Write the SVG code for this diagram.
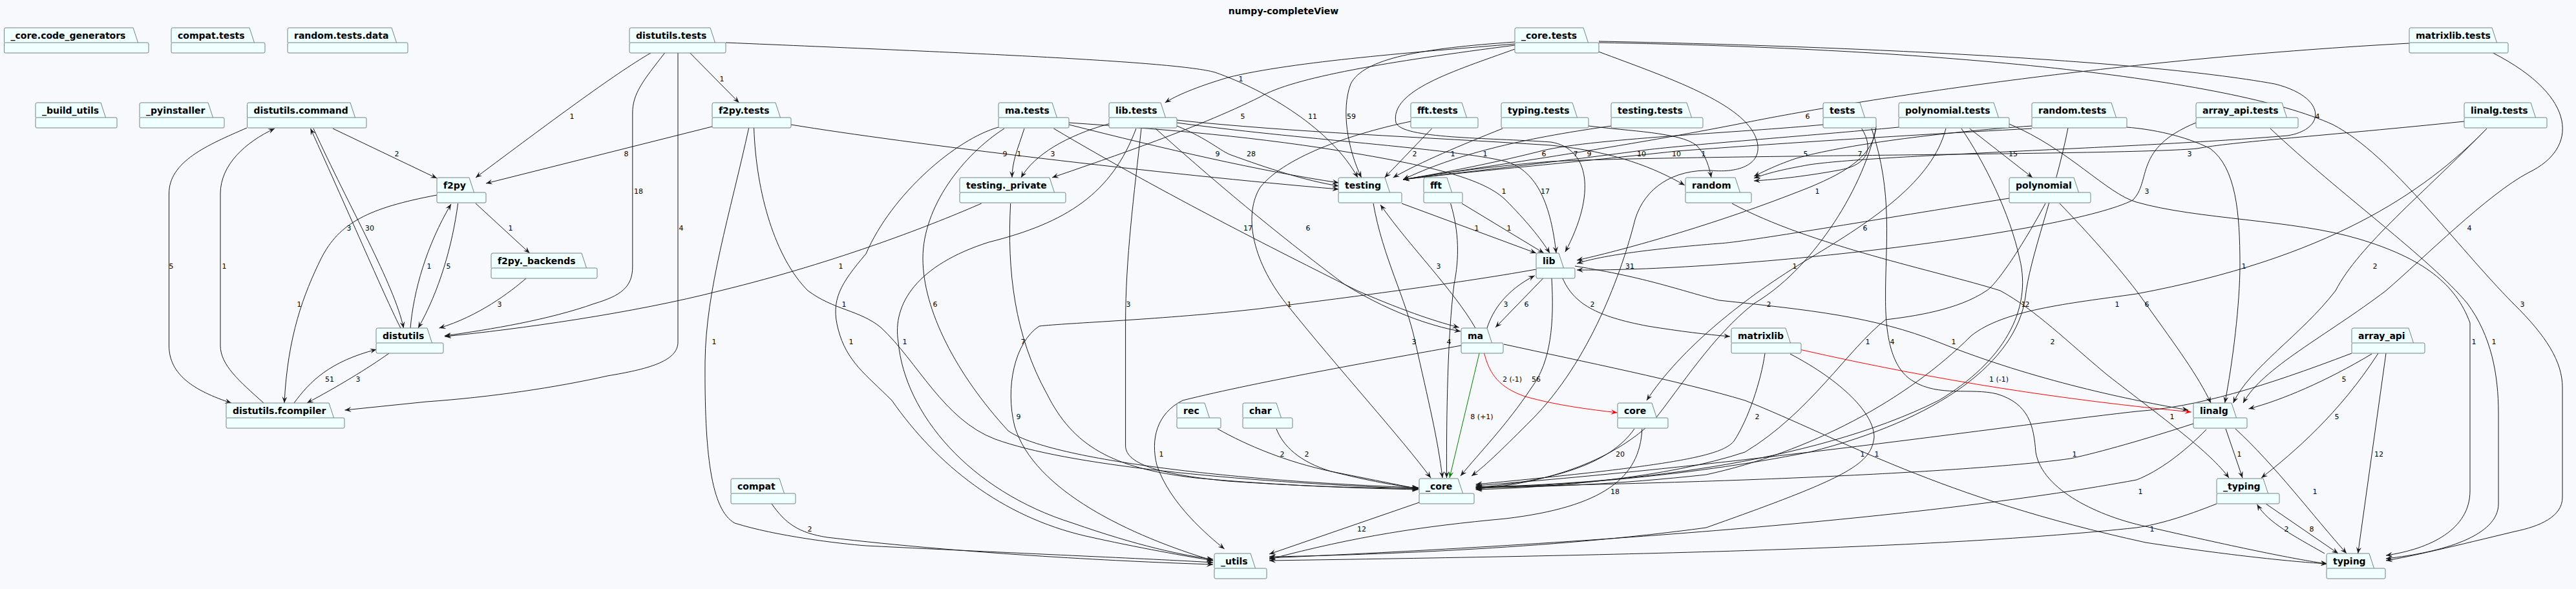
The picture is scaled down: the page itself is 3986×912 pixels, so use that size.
<svg xmlns="http://www.w3.org/2000/svg" width="3986" height="912" viewBox="0 0 3986 912">
<style>
.n path,.n rect{fill:#F0FFFF;stroke:#738383;stroke-width:1}
.n text{font-family:"DejaVu Sans",sans-serif;font-weight:bold;font-size:14px;fill:#000}
.e{fill:none;stroke:#181818;stroke-width:1;marker-end:url(#a)}
.er{fill:none;stroke:#FF0000;stroke-width:1;marker-end:url(#ar)}
.eg{fill:none;stroke:#008000;stroke-width:1;marker-end:url(#ag)}
.l{font-family:"DejaVu Sans",sans-serif;font-size:11px;fill:#000;text-anchor:middle}
.t{font-family:"DejaVu Sans",sans-serif;font-weight:bold;font-size:14px;text-anchor:middle}
</style>
<defs>
<marker id="a" viewBox="0 0 10 8" refX="10" refY="4" markerWidth="10" markerHeight="8" markerUnits="userSpaceOnUse" orient="auto"><path d="M0,0L10,4L0,8L4,4Z" fill="#181818"/></marker>
<marker id="ar" viewBox="0 0 10 8" refX="10" refY="4" markerWidth="10" markerHeight="8" markerUnits="userSpaceOnUse" orient="auto"><path d="M0,0L10,4L0,8L4,4Z" fill="#FF0000"/></marker>
<marker id="ag" viewBox="0 0 10 8" refX="10" refY="4" markerWidth="10" markerHeight="8" markerUnits="userSpaceOnUse" orient="auto"><path d="M0,0L10,4L0,8L4,4Z" fill="#008000"/></marker>
</defs>
<rect x="0" y="0" width="3986" height="912" fill="#F8F9FD"/>
<text class="t" x="1986" y="22">numpy-completeView</text>

<g id="connectors">
<path class="e" d="M382,198 C320,225 261.5,250 261.5,300 L261.5,535 C261.5,580 300,605 358,624"/><text class="l" x="265" y="416">5</text>
<path class="e" d="M408,624 C370,590 341,565 341,535 L341,300 C341,255 380,220 425,199"/><text class="l" x="347" y="416">1</text>
<path class="e" d="M515,199 L676,276"/><text class="l" x="614" y="242">2</text>
<path class="e" d="M620,508 C600,470 540,330 480.5,199"/><text class="l" x="540" y="357">3</text>
<path class="e" d="M485,199 C540,320 610,440 624.5,508"/><text class="l" x="572" y="357">30</text>
<path class="e" d="M635,508 C640,450 660,380 698,316"/><text class="l" x="664" y="416">1</text>
<path class="e" d="M708.6,315 C700,380 680,450 647,508"/><text class="l" x="694" y="416">5</text>
<path class="e" d="M736,315 L819.6,392"/><text class="l" x="790" y="357">1</text>
<path class="e" d="M814,431 C790,452 740,490 679.5,508"/><text class="l" x="773" y="475">3</text>
<path class="e" d="M676,302 C570,322 525,345 497,400 C470,455 445,520 440,624"/><text class="l" x="463" y="475">1</text>
<path class="e" d="M602,547 C570,570 520,600 475,624"/><text class="l" x="554" y="591">3</text>
<path class="e" d="M455,624 C480,590 510,560 582.5,541"/><text class="l" x="510" y="591">51</text>
<path class="e" d="M1007,82 C950,115 850,190 736,275"/><text class="l" x="885" y="184">1</text>
<path class="e" d="M1067.7,82 L1143.6,159"/><text class="l" x="1117" y="126">1</text>
<path class="e" d="M1028.6,82 C995,125 978.8,145 978.8,175 L978.8,413 C978.8,445 960,458 920,470 C850,495 760,510 688,520"/><text class="l" x="988" y="300">18</text>
<path class="e" d="M1049,82 L1049,530 C1049,560 1000,572 940,582 C860,600 760,615 660,622 L533.5,635"/><text class="l" x="1054" y="357">4</text>
<path class="e" d="M1123,66 C1500,82 1820,95 1880,112 C1960,140 2060,200 2101,275"/><text class="l" x="2031" y="184">11</text>
<path class="e" d="M1518.6,315 C1450,345 1300,405 1115,450 C980,485 800,510 688,521"/><text class="l" x="1301" y="416">1</text>
<path class="e" d="M1102,196 L752,284"/><text class="l" x="969" y="242">8</text>
<path class="e" d="M1224,193 C1400,222 1800,270 2071.5,293"/><text class="l" x="1555" y="242">9</text>
<path class="e" d="M1158.7,198 C1130,330 1092,450 1091,560 C1090,700 1100,790 1137,810 C1200,830 1300,842 1340,845 C1600,858 1800,866 1877,871"/><text class="l" x="1105" y="533">1</text>
<path class="e" d="M1166.6,198 C1170,300 1200,400 1250,450 C1290,480 1330,480 1363,507 C1420,560 1460,650 1540,680 C1650,720 1900,745 2194.7,757"/><text class="l" x="1306" y="475">1</text>
<path class="e" d="M1545,197 C1480,215 1380,300 1340,393 C1300,440 1285,465 1297,510 C1310,560 1340,580 1380,620 C1450,720 1550,800 1680,830 C1760,848 1840,862 1877,868"/><text class="l" x="1317" y="533">1</text>
<path class="e" d="M1554,199 C1490,240 1428,320 1428,400 C1428,480 1480,580 1560,667 C1620,710 1900,745 2194.7,755"/><text class="l" x="1447" y="475">6</text>
<path class="e" d="M1758,199 C1720,300 1650,345 1530,375 C1420,410 1380,470 1390,530 C1400,640 1500,760 1660,810 C1760,845 1830,860 1877,866"/><text class="l" x="1400" y="533">1</text>
<path class="e" d="M1563.7,315 C1558,420 1570,520 1620,610 C1660,690 1720,725 1850,740 C1980,752 2100,756 2194.7,758"/><text class="l" x="1583" y="533">7</text>
<path class="e" d="M2377,417 C2250,440 2050,465 1949,478 C1800,495 1650,500 1608,505 C1570,530 1555,600 1570,660 C1600,760 1750,830 1877,868"/><text class="l" x="1576" y="649">9</text>
<path class="e" d="M1766,199 C1755,300 1741.6,400 1741.6,500 L1741.6,690 C1741.6,720 1800,735 1900,745 C2000,752 2100,756 2194.7,756"/><text class="l" x="1746" y="475">3</text>
<path class="e" d="M1884,664 C1930,690 1990,715 2060,730 C2120,742 2160,750 2194.7,757"/><text class="l" x="1984" y="707">2</text>
<path class="e" d="M1975,664 C1985,690 2010,715 2060,730 C2120,745 2160,752 2194.7,756"/><text class="l" x="2022" y="707">2</text>
<path class="e" d="M2196,778 L1964,858"/><text class="l" x="2107" y="823">12</text>
<path class="e" d="M2540.8,664 C2538,740 2480,785 2330,803 C2200,815 2100,830 1964,866"/><text class="l" x="2499" y="765">18</text>
<path class="e" d="M2529,664 C2490,720 2400,745 2283.6,755"/><text class="l" x="2507" y="707">20</text>
<path class="er" d="M2296.6,547 C2305,580 2320,600 2360,614 C2410,628 2460,634 2502.6,639"/><text class="l" x="2340" y="591">2 (-1)</text>
<path class="eg" d="M2289,547 L2243,740"/><text class="l" x="2293" y="649">8 (+1)</text>
<path class="e" d="M2401,431 C2405,500 2400,560 2370,600 C2330,660 2290,700 2260,737"/><text class="l" x="2377" y="591">56</text>
<path class="e" d="M2125,315 C2140,400 2175,460 2190,530 C2210,620 2225,680 2232,740"/><text class="l" x="2188" y="533">3</text>
<path class="e" d="M2244.6,315 C2258,360 2258,400 2250,440 C2240,520 2238,640 2238.5,740"/><text class="l" x="2242" y="533">4</text>
<path class="e" d="M2473.5,80 C2580,120 2700,160 2718,216 C2730,255 2690,268 2648,264 C2590,262 2545,290 2530,340 C2510,420 2460,560 2370,650 C2330,690 2300,720 2277,737"/><text class="l" x="2522" y="416">31</text>
<path class="e" d="M2183,188 C2100,205 1990,240 1950,290 C1925,330 1935,400 1990,470 C2070,570 2170,680 2214,740"/><text class="l" x="1995" y="475">1</text>
<path class="e" d="M1630.5,199 C1800,300 2000,400 2100,450 C2180,485 2230,500 2257.6,507"/><text class="l" x="1931" y="357">17</text>
<path class="e" d="M1788,199 C1900,300 2000,380 2080,440 C2160,490 2230,508 2260,513"/><text class="l" x="2024" y="357">6</text>
<path class="e" d="M2301,508 C2310,480 2330,450 2374.7,426.7"/><text class="l" x="2330" y="475">3</text>
<path class="e" d="M2387.7,431 L2314,507"/><text class="l" x="2362" y="475">6</text>
<path class="e" d="M2418,431 C2435,470 2470,490 2550,505 C2600,513 2640,518 2677,521"/><text class="l" x="2464" y="475">2</text>
<path class="e" d="M2169,315 L2377,392"/><text class="l" x="2285" y="357">1</text>
<path class="e" d="M2262,315 L2389,392"/><text class="l" x="2335" y="357">1</text>
<path class="e" d="M1654,190 C1800,200 1950,212 2100,238 C2230,260 2300,280 2330,310 C2360,340 2385,370 2398,392"/><text class="l" x="2327" y="300">1</text>
<path class="e" d="M1821,190 C2000,215 2250,230 2330,250 C2380,265 2400,320 2408,392"/><text class="l" x="2391" y="300">17</text>
<path class="e" d="M2344,76 C2250,110 2150,140 2160,190 C2170,215 2300,213 2400,220 C2460,230 2470,300 2422,390"/><text class="l" x="2459" y="242">9</text>
<path class="e" d="M1821,186 C2000,205 2200,212 2400,225 C2500,235 2560,260 2606.7,286.7"/><text class="l" x="2438" y="242">7</text>
<path class="e" d="M2458,195 C2520,203 2600,205 2625,225 C2640,240 2645,260 2648,275"/><text class="l" x="2636" y="242">1</text>
<path class="e" d="M3144,195 C3000,205 2850,225 2780,245 C2750,255 2730,265 2714,273"/><text class="l" x="2794" y="242">5</text>
<path class="e" d="M2880.7,199 C2900,230 2890,255 2848,263 C2800,272 2750,278 2714,280"/><text class="l" x="2878" y="242">7</text>
<path class="e" d="M2474,64 C2800,70 3300,90 3520,130 C3600,150 3600,200 3540,210 C3300,230 2900,240 2800,255 C2760,262 2735,268 2714,276"/><text class="l" x="3586" y="184">4</text>
<path class="e" d="M2215.5,199 L2142.6,275"/><text class="l" x="2189" y="242">2</text>
<path class="e" d="M2325,199 C2260,225 2200,250 2155.6,275"/><text class="l" x="2248" y="242">1</text>
<path class="e" d="M2493.5,195 C2350,215 2250,240 2171,278"/><text class="l" x="2298" y="242">1</text>
<path class="e" d="M2821,193 C2700,205 2450,215 2380,235 C2300,255 2220,270 2171,278"/><text class="l" x="2389" y="242">6</text>
<path class="e" d="M2938,197 C2800,210 2600,225 2540,233 C2400,252 2250,268 2171,278"/><text class="l" x="2540" y="242">10</text>
<path class="e" d="M3144,199 C2900,212 2700,226 2594,234 C2450,250 2250,268 2171,278"/><text class="l" x="2594" y="242">10</text>
<path class="e" d="M3813,188 C3600,210 3450,220 3400,230 C3300,240 2600,240 2400,250 C2300,258 2220,270 2171,278"/><text class="l" x="3388" y="242">3</text>
<path class="e" d="M3728,67 C3300,90 2900,150 2700,190 C2500,230 2250,265 2171,278"/><text class="l" x="2797" y="184">6</text>
<path class="e" d="M2344,65 C2200,75 2110,90 2090,130 C2075,170 2085,230 2106.6,275"/><text class="l" x="2091" y="184">59</text>
<path class="e" d="M2344,70 C2150,95 2000,120 1950,150 C1850,200 1700,250 1628,275"/><text class="l" x="1923" y="184">5</text>
<path class="e" d="M2344,68 C2200,80 2000,95 1900,120 C1850,135 1820,148 1802.7,159"/><text class="l" x="1920" y="126">1</text>
<path class="e" d="M1585,199 C1575,230 1566,250 1566,275"/><text class="l" x="1577" y="242">1</text>
<path class="e" d="M1716,191.7 C1650,210 1600,240 1580,275"/><text class="l" x="1629" y="242">3</text>
<path class="e" d="M1654,193 C1800,230 1950,265 2071.5,283"/><text class="l" x="1884" y="242">9</text>
<path class="e" d="M1821,195 C1870,215 1890,235 1905,240 C1960,260 2020,280 2071.5,288"/><text class="l" x="1936" y="242">28</text>
<path class="e" d="M2283,508 C2250,450 2180,380 2136,317"/><text class="l" x="2226" y="416">3</text>
<path class="e" d="M2903,195 C2900,240 2860,265 2800,290 C2650,350 2500,390 2440,403"/><text class="l" x="2812" y="300">1</text>
<path class="e" d="M3109,307 C2900,340 2700,375 2660,377 C2560,385 2480,395 2440,408"/><text class="l" x="2886" y="357">6</text>
<path class="e" d="M3398,190 C3300,230 3330,280 3300,310 C3200,360 2700,420 2440,418"/><text class="l" x="3322" y="300">3</text>
<path class="e" d="M3011,199 C2990,280 2900,340 2800,400 C2700,460 2600,540 2548,620"/><text class="l" x="2777" y="416">1</text>
<path class="e" d="M3047.7,199 L3145,275"/><text class="l" x="3115" y="242">15</text>
<path class="e" d="M3187,315 C3250,380 3300,440 3320,470 C3370,540 3400,580 3421,624"/><text class="l" x="3322" y="475">6</text>
<path class="e" d="M3165,315 C3130,380 3090,440 3074,450 C3030,480 2960,490 2917.6,495 C2860,540 2800,640 2700,700 C2580,740 2400,755 2283.6,758"/><text class="l" x="2890" y="533">1</text>
<path class="e" d="M2903,198 C2880,300 2800,420 2714,470 C2650,520 2600,600 2560,650 C2500,710 2400,748 2283.6,757"/><text class="l" x="2737" y="475">2</text>
<path class="e" d="M3200,198 C3180,300 3140,400 3134,460 C3120,560 3000,650 2800,700 C2600,740 2400,752 2283.6,756"/><text class="l" x="3137" y="475">2</text>
<path class="e" d="M3035,199 C3070,250 3110,330 3125,400 C3145,480 3100,560 3000,620 C2800,720 2500,750 2283.6,754"/><text class="l" x="3131" y="475">1</text>
<path class="e" d="M3848,199 C3750,300 3600,400 3306,455 C3200,470 3100,480 3050,520 C2950,620 2800,700 2640,735 C2500,750 2400,754 2283.6,755"/><text class="l" x="3276" y="475">1</text>
<path class="e" d="M2731,547 C2725,590 2705,650 2683,683 C2665,705 2600,720 2283.6,750"/><text class="l" x="2719" y="649">2</text>
<path class="e" d="M2770,548 C2850,590 2900,640 2900,677 C2895,720 2857,740 2640,817 C2400,850 2100,860 1964,862"/><text class="l" x="2904" y="707">1</text>
<path class="e" d="M2327,533 C2450,560 2600,590 2700,620 C2850,680 3000,770 3320,840 C3450,860 3550,870 3601,873"/><text class="l" x="2882" y="707">1</text>
<path class="er" d="M2787,541.6 C3000,590 3200,620 3390.6,638"/><text class="l" x="3093" y="591">1 (-1)</text>
<path class="e" d="M3848,199 C3750,300 3650,380 3614,450 C3560,520 3480,570 3455.6,624"/><text class="l" x="3675" y="416">2</text>
<path class="e" d="M3857.6,82 C3990,150 3990,230 3913,267 C3850,300 3750,400 3692,450 C3600,520 3500,570 3471,624"/><text class="l" x="3821" y="357">4</text>
<path class="e" d="M3670,548 C3600,590 3530,620 3479.5,633"/><text class="l" x="3627" y="591">5</text>
<path class="e" d="M3291,197 C3330,200 3380,210 3420,230 C3460,260 3466,330 3466,410 C3466,470 3455,560 3442.6,624"/><text class="l" x="3472" y="416">1</text>
<path class="e" d="M2437,412 C2550,430 2600,450 2660,465 C2800,480 2900,490 3000,530 C3150,590 3300,620 3386,635"/><text class="l" x="3023" y="533">1</text>
<path class="e" d="M2680,315 C2800,380 3000,420 3095,450 C3150,480 3200,530 3260,580 C3350,650 3420,700 3449,740"/><text class="l" x="3176" y="533">2</text>
<path class="e" d="M3639,547 C3500,600 3400,630 3306,637 C3100,660 2700,720 2283.6,752"/><text class="l" x="3361" y="649">1</text>
<path class="e" d="M3394,656 C3320,680 3250,700 3204,710 C3100,725 2800,745 2283.6,754"/><text class="l" x="3210" y="707">1</text>
<path class="e" d="M3414,665 C3380,700 3340,730 3306,743 C3000,800 2500,840 1964,864"/><text class="l" x="3312" y="765">1</text>
<path class="e" d="M3430,780 C3380,800 3340,812 3306,817 C3000,850 2500,860 1964,868"/><text class="l" x="3330" y="823">1</text>
<path class="e" d="M3444,664 L3470,740"/><text class="l" x="3465" y="707">1</text>
<path class="e" d="M3459,664 C3520,720 3580,800 3631,857"/><text class="l" x="3582" y="765">1</text>
<path class="e" d="M3680,547 C3620,640 3550,700 3499,740"/><text class="l" x="3616" y="649">5</text>
<path class="e" d="M3692,547 L3648.6,857"/><text class="l" x="3681" y="707">12</text>
<path class="e" d="M3506,780 L3618,857"/><text class="l" x="3577" y="823">8</text>
<path class="e" d="M3597,857 C3550,830 3510,810 3492.5,781"/><text class="l" x="3538" y="823">2</text>
<path class="e" d="M2474,66 C3000,75 3450,120 3610,193 C3700,240 3800,380 3889,470 C3940,520 3965,560 3965,600 L3965,770 C3965,800 3930,815 3891,823 C3800,845 3730,862 3692,868"/><text class="l" x="3903" y="475">3</text>
<path class="e" d="M3513,199 C3620,300 3760,400 3818,470 C3855,520 3866,580 3866,640 L3866,780 C3866,830 3780,855 3692,865"/><text class="l" x="3859" y="533">1</text>
<path class="e" d="M3109,192 C3200,230 3260,300 3306,313 C3400,340 3550,340 3650,370 C3750,400 3800,440 3822,500 L3822,760 C3822,820 3760,850 3692,860"/><text class="l" x="3828" y="533">1</text>
<path class="e" d="M2896,199 C2930,300 2917,380 2917.6,460 C2917,540 2935,575 2960,590 C3000,615 3050,600 3090,610 C3140,625 3147,660 3150,700 C3160,760 3250,800 3320,815 C3450,845 3550,866 3601,873"/><text class="l" x="2928" y="533">4</text>
<path class="e" d="M1194,780 C1215,810 1235,825 1280,832 C1500,858 1750,870 1877,874"/><text class="l" x="1253" y="823">2</text>
<path class="e" d="M2261,535 C2150,555 1950,590 1830,620 C1790,640 1780,680 1790,720 C1810,780 1870,830 1894.6,850"/><text class="l" x="1797" y="707">1</text>
</g>

<g id="n_core_code_generators" class="n"><path d="M6.5,66V45.5Q6.5,43 9,43H206L213.5,66"/><rect x="6.5" y="66" width="223.5" height="16" rx="2"/><text x="16.5" y="60">_core.code_generators</text></g>
<g id="n_compat_tests" class="n"><path d="M265,66V45.5Q265,43 267.5,43H386L393.5,66"/><rect x="265" y="66" width="145" height="16" rx="2"/><text x="275" y="60">compat.tests</text></g>
<g id="n_random_tests_data" class="n"><path d="M445,66V45.5Q445,43 447.5,43H606L613.5,66"/><rect x="445" y="66" width="186" height="16" rx="2"/><text x="455" y="60">random.tests.data</text></g>
<g id="n_distutils_tests" class="n"><path d="M974,66V45.5Q974,43 976.5,43H1099L1106.5,66"/><rect x="974" y="66" width="149" height="16" rx="2"/><text x="984" y="60">distutils.tests</text></g>
<g id="n_core_tests" class="n"><path d="M2344,66V45.5Q2344,43 2346.5,43H2450L2457.5,66"/><rect x="2344" y="66" width="130" height="16" rx="2"/><text x="2354" y="60">_core.tests</text></g>
<g id="n_matrixlib_tests" class="n"><path d="M3728,66V45.5Q3728,43 3730.5,43H3856L3863.5,66"/><rect x="3728" y="66" width="153" height="16" rx="2"/><text x="3738" y="60">matrixlib.tests</text></g>
<g id="n_build_utils" class="n"><path d="M55,182V161.5Q55,159 57.5,159H156L163.5,182"/><rect x="55" y="182" width="126" height="16" rx="2"/><text x="65" y="176">_build_utils</text></g>
<g id="n_pyinstaller" class="n"><path d="M216,182V161.5Q216,159 218.5,159H322L329.5,182"/><rect x="216" y="182" width="131" height="16" rx="2"/><text x="226" y="176">_pyinstaller</text></g>
<g id="n_distutils_command" class="n"><path d="M382.5,182V161.5Q382.5,159 385,159H542L549.5,182"/><rect x="382.5" y="182" width="184.5" height="16" rx="2"/><text x="392.5" y="176">distutils.command</text></g>
<g id="n_f2py_tests" class="n"><path d="M1102,182V161.5Q1102,159 1104.5,159H1200L1207.5,182"/><rect x="1102" y="182" width="122" height="16" rx="2"/><text x="1112" y="176">f2py.tests</text></g>
<g id="n_ma_tests" class="n"><path d="M1545,182V161.5Q1545,159 1547.5,159H1628L1635.5,182"/><rect x="1545" y="182" width="109" height="16" rx="2"/><text x="1555" y="176">ma.tests</text></g>
<g id="n_lib_tests" class="n"><path d="M1716,182V161.5Q1716,159 1718.5,159H1796L1803.5,182"/><rect x="1716" y="182" width="105" height="16" rx="2"/><text x="1726" y="176">lib.tests</text></g>
<g id="n_fft_tests" class="n"><path d="M2183,182V161.5Q2183,159 2185.5,159H2262L2269.5,182"/><rect x="2183" y="182" width="104" height="16" rx="2"/><text x="2193" y="176">fft.tests</text></g>
<g id="n_typing_tests" class="n"><path d="M2323,182V161.5Q2323,159 2325.5,159H2433L2440.5,182"/><rect x="2323" y="182" width="135" height="16" rx="2"/><text x="2333" y="176">typing.tests</text></g>
<g id="n_testing_tests" class="n"><path d="M2493,182V161.5Q2493,159 2495.5,159H2610L2617.5,182"/><rect x="2493" y="182" width="142" height="16" rx="2"/><text x="2503" y="176">testing.tests</text></g>
<g id="n_tests" class="n"><path d="M2821,182V161.5Q2821,159 2823.5,159H2878L2885.5,182"/><rect x="2821" y="182" width="82" height="16" rx="2"/><text x="2831" y="176">tests</text></g>
<g id="n_polynomial_tests" class="n"><path d="M2938,182V161.5Q2938,159 2940.5,159H3085L3092.5,182"/><rect x="2938" y="182" width="171" height="16" rx="2"/><text x="2948" y="176">polynomial.tests</text></g>
<g id="n_random_tests" class="n"><path d="M3144,182V161.5Q3144,159 3146.5,159H3267L3274.5,182"/><rect x="3144" y="182" width="147" height="16" rx="2"/><text x="3154" y="176">random.tests</text></g>
<g id="n_array_api_tests" class="n"><path d="M3398,182V161.5Q3398,159 3400.5,159H3531L3538.5,182"/><rect x="3398" y="182" width="158" height="16" rx="2"/><text x="3408" y="176">array_api.tests</text></g>
<g id="n_linalg_tests" class="n"><path d="M3813,182V161.5Q3813,159 3815.5,159H3916L3923.5,182"/><rect x="3813" y="182" width="128" height="16" rx="2"/><text x="3823" y="176">linalg.tests</text></g>
<g id="n_f2py" class="n"><path d="M676,298V277.5Q676,275 678.5,275H726L733.5,298"/><rect x="676" y="298" width="76" height="16" rx="2"/><text x="686" y="292">f2py</text></g>
<g id="n_testing_private" class="n"><path d="M1485,298V277.5Q1485,275 1487.5,275H1624L1631.5,298"/><rect x="1485" y="298" width="164" height="16" rx="2"/><text x="1495" y="292">testing._private</text></g>
<g id="n_testing" class="n"><path d="M2071,298V277.5Q2071,275 2073.5,275H2143L2150.5,298"/><rect x="2071" y="298" width="98" height="16" rx="2"/><text x="2081" y="292">testing</text></g>
<g id="n_fft" class="n"><path d="M2203,298V277.5Q2203,275 2205.5,275H2239L2246.5,298"/><rect x="2203" y="298" width="60" height="16" rx="2"/><text x="2213" y="292">fft</text></g>
<g id="n_random" class="n"><path d="M2608,298V277.5Q2608,275 2610.5,275H2685L2692.5,298"/><rect x="2608" y="298" width="102" height="16" rx="2"/><text x="2618" y="292">random</text></g>
<g id="n_polynomial" class="n"><path d="M3109,298V277.5Q3109,275 3111.5,275H3209L3216.5,298"/><rect x="3109" y="298" width="126" height="16" rx="2"/><text x="3119" y="292">polynomial</text></g>
<g id="n_f2py_backends" class="n"><path d="M760,415V394.5Q760,392 762.5,392H900L907.5,415"/><rect x="760" y="415" width="164" height="16" rx="2"/><text x="770" y="409">f2py._backends</text></g>
<g id="n_lib" class="n"><path d="M2377,415V394.5Q2377,392 2379.5,392H2412L2419.5,415"/><rect x="2377" y="415" width="60" height="16" rx="2"/><text x="2387" y="409">lib</text></g>
<g id="n_distutils" class="n"><path d="M582,531V510.5Q582,508 584.5,508H661L668.5,531"/><rect x="582" y="531" width="104" height="16" rx="2"/><text x="592" y="525">distutils</text></g>
<g id="n_ma" class="n"><path d="M2261,531V510.5Q2261,508 2263.5,508H2301L2308.5,531"/><rect x="2261" y="531" width="65" height="16" rx="2"/><text x="2271" y="525">ma</text></g>
<g id="n_matrixlib" class="n"><path d="M2679,531V510.5Q2679,508 2681.5,508H2763L2770.5,531"/><rect x="2679" y="531" width="108" height="16" rx="2"/><text x="2689" y="525">matrixlib</text></g>
<g id="n_array_api" class="n"><path d="M3639,531V510.5Q3639,508 3641.5,508H3727L3734.5,531"/><rect x="3639" y="531" width="113" height="16" rx="2"/><text x="3649" y="525">array_api</text></g>
<g id="n_distutils_fcompiler" class="n"><path d="M350,647V626.5Q350,624 352.5,624H509L516.5,647"/><rect x="350" y="647" width="183" height="16" rx="2"/><text x="360" y="641">distutils.fcompiler</text></g>
<g id="n_rec" class="n"><path d="M1821,647V626.5Q1821,624 1823.5,624H1864L1871.5,647"/><rect x="1821" y="647" width="68" height="16" rx="2"/><text x="1831" y="641">rec</text></g>
<g id="n_char" class="n"><path d="M1923,647V626.5Q1923,624 1925.5,624H1975L1982.5,647"/><rect x="1923" y="647" width="77" height="16" rx="2"/><text x="1933" y="641">char</text></g>
<g id="n_core" class="n"><path d="M2503,647V626.5Q2503,624 2505.5,624H2556L2563.5,647"/><rect x="2503" y="647" width="78" height="16" rx="2"/><text x="2513" y="641">core</text></g>
<g id="n_linalg" class="n"><path d="M3394,647V626.5Q3394,624 3396.5,624H3453L3460.5,647"/><rect x="3394" y="647" width="83" height="16" rx="2"/><text x="3404" y="641">linalg</text></g>
<g id="n_compat" class="n"><path d="M1131,764V743.5Q1131,741 1133.5,741H1206L1213.5,764"/><rect x="1131" y="764" width="100" height="16" rx="2"/><text x="1141" y="758">compat</text></g>
<g id="n__core" class="n"><path d="M2196,764V743.5Q2196,741 2198.5,741H2256L2263.5,764"/><rect x="2196" y="764" width="85" height="16" rx="2"/><text x="2206" y="758">_core</text></g>
<g id="n__typing" class="n"><path d="M3430,764V743.5Q3430,741 3432.5,741H3502L3509.5,764"/><rect x="3430" y="764" width="97" height="16" rx="2"/><text x="3440" y="758">_typing</text></g>
<g id="n__utils" class="n"><path d="M1879,880V859.5Q1879,857 1881.5,857H1935L1942.5,880"/><rect x="1879" y="880" width="81" height="16" rx="2"/><text x="1889" y="874">_utils</text></g>
<g id="n_typing" class="n"><path d="M3600,880V859.5Q3600,857 3602.5,857H3666L3673.5,880"/><rect x="3600" y="880" width="91" height="16" rx="2"/><text x="3610" y="874">typing</text></g>
</svg>
